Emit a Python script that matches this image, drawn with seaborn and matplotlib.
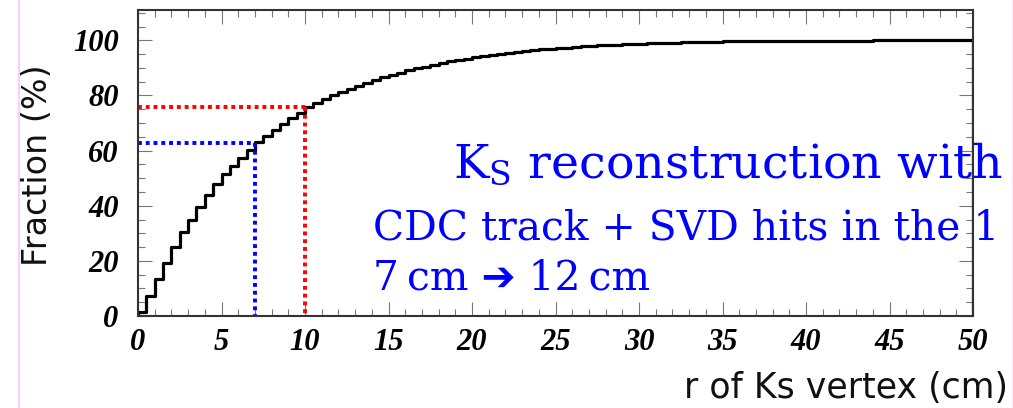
import numpy as np
import pandas as pd
import matplotlib
matplotlib.use("Agg")
import matplotlib.pyplot as plt
import seaborn as sns
from matplotlib.lines import Line2D
from matplotlib.ticker import MultipleLocator

# cumulative fraction (%) of Ks vertices with r below each 0.5 cm bin edge
bin_width = 0.5
frac = [
    1.6, 7.3, 13.4, 19.4, 24.9, 30.4, 35.0, 39.5, 44.0, 48.0,
    51.4, 54.4, 57.5, 60.4, 63.0, 65.4, 67.6, 69.8, 71.8, 73.7,
    75.8, 77.3, 78.7, 80.0, 81.3, 82.5, 83.6, 84.7, 85.7, 86.6,
    87.5, 88.3, 89.1, 89.8, 90.5, 91.2, 91.8, 92.4, 92.9, 93.4,
    93.9, 94.3, 94.7, 95.1, 95.5, 95.8, 96.1, 96.4, 96.7, 97.0,
    97.2, 97.4, 97.6, 97.8, 98.0, 98.2, 98.3, 98.5, 98.6, 98.7,
    98.8, 98.9, 99.0, 99.1, 99.2, 99.3, 99.3, 99.4, 99.5, 99.5,
    99.6, 99.6, 99.7, 99.7, 99.7, 99.8, 99.8, 99.8, 99.8, 99.9,
    99.9, 99.9, 99.9, 99.9, 99.9, 99.9, 99.9, 99.9, 100.0, 100.0,
    100.0, 100.0, 100.0, 100.0, 100.0, 100.0, 100.0, 100.0, 100.0, 100.0,
]
bin_lo = np.arange(len(frac)) * bin_width

# radius cuts and the fraction reached there
cut_r = [7, 10]
cut_frac = [62.7, 75.8]
cut_colors = ["#0000ff", "#ff0000"]

x_ticks = [0, 5, 10, 15, 20, 25, 30, 35, 40, 45, 50]
y_ticks = [0, 20, 40, 60, 80, 100]

sns.set_style("ticks")
plt.rcParams["font.family"] = ["DejaVu Sans"]
plt.rcParams["mathtext.fontset"] = "dejavuserif"

fig = plt.figure(figsize=(10.13, 4.08), dpi=100)
ax = fig.add_axes([138 / 1013, 1 - 316 / 408, (973 - 138) / 1013, (316 - 9.5) / 408])

# histogram outline, closed down to zero at both ends like ROOT draws it
x_end = bin_lo[-1] + bin_width
df = pd.DataFrame({
    "r": np.concatenate([[0], bin_lo, [x_end, x_end]]),
    "f": np.concatenate([[0], frac, [frac[-1], 0]]),
})
sns.lineplot(data=df, x="r", y="f", ax=ax, estimator=None, sort=False,
             drawstyle="steps-post", color="black", lw=2.3)

for r, f, c in zip(cut_r, cut_frac, cut_colors):
    ax.plot([0, r], [f, f], color=c, lw=2.8, ls=(0, (1, 1.0)), dash_capstyle="butt")
    ax.plot([r, r], [f, 0], color=c, lw=2.8, ls=(0, (1, 1.0)), dash_capstyle="butt")

ax.set_xlim(0, 50)
ax.set_ylim(0, 111.2)
ax.set_xticks(x_ticks)
ax.set_yticks(y_ticks)
ax.xaxis.set_minor_locator(MultipleLocator(1))
ax.yaxis.set_minor_locator(MultipleLocator(5))
ax.tick_params(which="both", direction="in", top=True, right=True, color="#777777", width=0.8)
ax.tick_params(which="major", length=10)
ax.tick_params(which="minor", length=5)
ax.tick_params(axis="x", pad=9)
ax.tick_params(axis="y", pad=14)
for lbl in ax.get_xticklabels() + ax.get_yticklabels():
    lbl.set_family("Liberation Serif")
    lbl.set_style("italic")
    lbl.set_weight("bold")
    lbl.set_size(22)
    lbl.set_color("black")
for sp in ax.spines.values():
    sp.set_color("#333333")
    sp.set_linewidth(1.5)
ax.set_xlabel("")
ax.set_ylabel("")

fig.text(38 / 1013, 1 - 165 / 408, "Fraction (%)", rotation=90, fontsize=24,
         ha="center", va="center", color="#111111")
fig.text(1008 / 1013, 1 - 398 / 408, "r of Ks vertex (cm)", fontsize=25,
         ha="right", va="baseline", color="#111111")

blue = "#0000ff"
serif = ["DejaVu Serif", "DejaVu Sans"]
fig.text(453 / 1013, 1 - 178 / 408, r"K$_\mathrm{S}$ reconstruction with",
         fontsize=34.2, color=blue, family=serif, va="baseline")
fig.text(373 / 1013, 1 - 239 / 408, "CDC track + SVD hits in the 1",
         fontsize=29.3, color=blue, family=serif, va="baseline")
fig.text(373 / 1013, 1 - 290 / 408, "7\u2009cm \u2794 12\u2009cm",
         fontsize=29.3, color=blue, family=serif, va="baseline")

# slide frame edges
fig.add_artist(Line2D([18.5 / 1013] * 2, [0, 1], color="#ffccff", lw=1.5))
fig.add_artist(Line2D([1011.5 / 1013] * 2, [0, 1], color="#fbe6fb", lw=1.0))

fig.savefig("out.png", dpi=100)
plt.close(fig)
